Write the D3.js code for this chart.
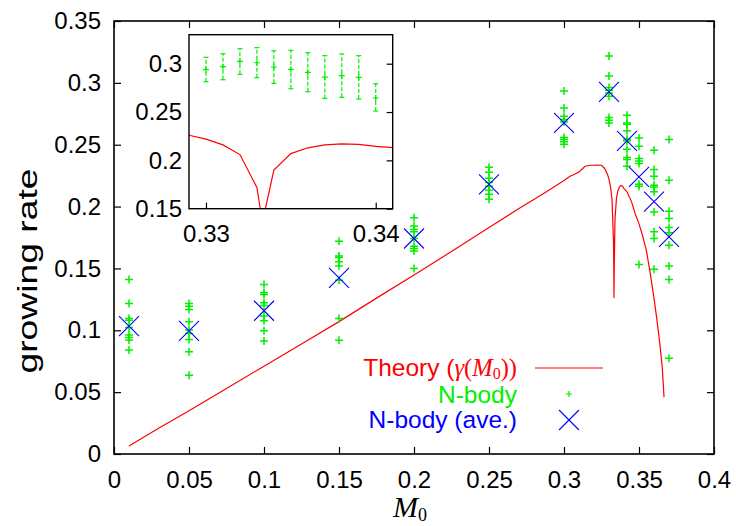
<!DOCTYPE html>
<html><head><meta charset="utf-8">
<script src="https://cdn.jsdelivr.net/npm/d3@7"></script>
<style>body{margin:0;background:#fff}</style>
</head><body>
<svg id="c" width="736" height="526"></svg>
<script>
// Theory curve gamma(M0)
const theoryM = [0.01, 0.03, 0.05, 0.075, 0.1, 0.125, 0.15, 0.175, 0.2, 0.225, 0.25, 0.27, 0.287, 0.3, 0.304, 0.306, 0.31, 0.314, 0.318, 0.322, 0.325, 0.327, 0.329, 0.33, 0.331, 0.332, 0.333, 0.3332, 0.3333, 0.3335, 0.334, 0.335, 0.336, 0.337, 0.338, 0.339, 0.34, 0.342, 0.345, 0.3475, 0.35, 0.3525, 0.355, 0.3575, 0.36, 0.362, 0.364, 0.3655, 0.3667];
const theoryG = [0.0065, 0.021, 0.035, 0.053, 0.071, 0.089, 0.107, 0.126, 0.1446, 0.1637, 0.183, 0.1985, 0.211, 0.221, 0.2245, 0.2255, 0.228, 0.2326, 0.2334, 0.2336, 0.2334, 0.231, 0.226, 0.222, 0.216, 0.206, 0.172, 0.15, 0.126, 0.15, 0.19, 0.207, 0.213, 0.216, 0.217, 0.2165, 0.2145, 0.212, 0.204, 0.194, 0.186, 0.176, 0.164, 0.146, 0.126, 0.108, 0.088, 0.07, 0.046];

// N-body runs
const nbM = [0.01, 0.05, 0.1, 0.15, 0.2, 0.25, 0.3, 0.33, 0.342, 0.35, 0.36, 0.37];
const nbRuns = [
  [0.1411, 0.1217, 0.1096, 0.1082, 0.1023, 0.0961, 0.0942, 0.0921, 0.084],
  [0.1217, 0.1195, 0.1168, 0.1069, 0.1002, 0.0975, 0.0926, 0.0826, 0.0636],
  [0.1371, 0.1303, 0.129, 0.1222, 0.1201, 0.1115, 0.1077, 0.0996, 0.0913],
  [0.172, 0.160, 0.1589, 0.1553, 0.1519, 0.1405, 0.1096, 0.092],
  [0.1909, 0.1842, 0.1815, 0.1796, 0.1742, 0.168, 0.1661, 0.164, 0.15],
  [0.2318, 0.2278, 0.2229, 0.2197, 0.2165, 0.2132, 0.21, 0.206],
  [0.2935, 0.2797, 0.273, 0.2703, 0.2684, 0.2558, 0.2542, 0.2523, 0.2504],
  [0.3217, 0.3056, 0.2962, 0.294, 0.2919, 0.2892, 0.272, 0.2698, 0.2676],
  [0.2738, 0.2676, 0.2666, 0.2612, 0.2544, 0.2531, 0.2464, 0.2396, 0.238, 0.2326],
  [0.2555, 0.2488, 0.2388, 0.2369, 0.2348, 0.2181, 0.2165, 0.1532],
  [0.2456, 0.23, 0.2246, 0.2173, 0.2159, 0.2119, 0.1957, 0.1796, 0.1742, 0.1494],
  [0.2542, 0.2213, 0.1963, 0.1904, 0.1831, 0.1788, 0.1688, 0.1519, 0.1411, 0.0773]
];
// N-body averages
const aveG = [0.1034, 0.0996, 0.1158, 0.1424, 0.1742, 0.218, 0.2677, 0.2927, 0.2531, 0.224, 0.204, 0.1755];

// Inset: mean with error bars
const insetM = [0.330, 0.331, 0.332, 0.333, 0.334, 0.335, 0.336, 0.337, 0.338, 0.339, 0.340];
const insetMean = [0.2938, 0.2969, 0.3024, 0.301, 0.2966, 0.2941, 0.291, 0.2862, 0.2876, 0.2859, 0.2645];
const insetLo = [0.2814, 0.2834, 0.289, 0.2855, 0.2797, 0.2741, 0.271, 0.2641, 0.2652, 0.2634, 0.251];
const insetHi = [0.3066, 0.3103, 0.3155, 0.3166, 0.3134, 0.3138, 0.3114, 0.3083, 0.31, 0.3083, 0.2793];

const xTicks = [0, 0.05, 0.1, 0.15, 0.2, 0.25, 0.3, 0.35, 0.4];
const xTickLabels = ["0", "0.05", "0.1", "0.15", "0.2", "0.25", "0.3", "0.35", "0.4"];
const yTicks = [0, 0.05, 0.1, 0.15, 0.2, 0.25, 0.3, 0.35];
const yTickLabels = ["0", "0.05", "0.1", "0.15", "0.2", "0.25", "0.3", "0.35"];
const insetXTicks = [0.33, 0.34];
const insetXTickLabels = ["0.33", "0.34"];
const insetYTicks = [0.15, 0.2, 0.25, 0.3];
const insetYTickLabels = ["0.15", "0.2", "0.25", "0.3"];

const RED = "#ff0000", GREEN = "#00f000", BLUE = "#0000ff";
const SANS = "'Liberation Sans', Arial, Helvetica, sans-serif";
const SERIF = "'Liberation Serif', 'Times New Roman', serif";

const svg = d3.select('#c');
svg.append('rect').attr('width', 736).attr('height', 526).attr('fill', '#fff');

const x = d3.scaleLinear().domain([0, 0.4]).range([114, 714]);
const y = d3.scaleLinear().domain([0, 0.35]).range([454, 21]);

function styleAxis(g, size) {
  g.select('.domain').remove();
  g.selectAll('line').attr('stroke', '#000').attr('stroke-width', 1.2);
  g.selectAll('text').attr('font-family', SANS).attr('font-size', size).attr('fill', '#000');
}

svg.append('g').attr('transform', 'translate(0,454)')
  .call(d3.axisBottom(x).tickValues(xTicks).tickSize(-7).tickPadding(17).tickFormat((d, i) => xTickLabels[i]))
  .call(g => styleAxis(g, 24));
svg.append('g').attr('transform', 'translate(0,21)')
  .call(d3.axisTop(x).tickValues(xTicks).tickSize(-7).tickFormat(''))
  .call(g => styleAxis(g, 24));
svg.append('g').attr('transform', 'translate(114,0)')
  .call(d3.axisLeft(y).tickValues(yTicks).tickSize(-7).tickPadding(13).tickFormat((d, i) => yTickLabels[i]))
  .call(g => styleAxis(g, 24));
svg.append('g').attr('transform', 'translate(714,0)')
  .call(d3.axisRight(y).tickValues(yTicks).tickSize(-7).tickFormat(''))
  .call(g => styleAxis(g, 24));

// theory curve
const theory = theoryM.map((m, i) => [m, theoryG[i]]);
const line = d3.line().x(d => x(d[0])).y(d => y(d[1]));
svg.append('path').datum(theory).attr('d', line)
  .attr('fill', 'none').attr('stroke', RED).attr('stroke-width', 1.2);

// N-body points
const pts = [];
nbM.forEach((m, i) => nbRuns[i].forEach(v => pts.push([m, v])));
const plus = (sel, s) => sel.append('path')
  .attr('d', `M${-s},0H${s}M0,${-s}V${s}`);
const pg = svg.append('g');
pts.forEach(p => {
  plus(pg.append('g').attr('transform', `translate(${x(p[0])},${y(p[1])})`), 4)
    .attr('stroke', GREEN).attr('stroke-width', 1.5).attr('fill', 'none');
});

// averages
const cross = (sel, s) => sel.append('path')
  .attr('d', `M${-s},${-s}L${s},${s}M${-s},${s}L${s},${-s}`);
const ag = svg.append('g');
nbM.forEach((m, i) => {
  cross(ag.append('g').attr('transform', `translate(${x(m)},${y(aveG[i])})`), 10)
    .attr('stroke', BLUE).attr('stroke-width', 1.1).attr('fill', 'none');
});

// frame
svg.append('rect').attr('x', 114).attr('y', 21).attr('width', 600).attr('height', 433)
  .attr('fill', 'none').attr('stroke', '#000').attr('stroke-width', 1.6);

// legend
const lg = svg.append('g').attr('font-family', SANS).attr('font-size', 24.5);
const t1 = lg.append('text').attr('x', 517).attr('y', 376).attr('text-anchor', 'end').attr('fill', RED);
t1.append('tspan').text('Theory (');
t1.append('tspan').attr('font-family', SERIF).attr('font-style', 'italic').text('γ');
t1.append('tspan').attr('font-family', SERIF).text('(');
t1.append('tspan').attr('font-family', SERIF).attr('font-style', 'italic').text('M');
t1.append('tspan').attr('font-family', SERIF).attr('font-size', 16).attr('dy', 3).text('0');
t1.append('tspan').attr('font-family', SERIF).attr('dy', -3).text('))');
lg.append('line').attr('x1', 535).attr('x2', 603).attr('y1', 368).attr('y2', 368)
  .attr('stroke', RED).attr('stroke-width', 1.2);
lg.append('text').attr('x', 517).attr('y', 403).attr('text-anchor', 'end').attr('fill', GREEN).text('N-body');
plus(lg.append('g').attr('transform', 'translate(569,394)'), 3)
  .attr('stroke', GREEN).attr('stroke-width', 1.2);
lg.append('text').attr('x', 517).attr('y', 428).attr('text-anchor', 'end').attr('fill', BLUE).text('N-body (ave.)');
cross(lg.append('g').attr('transform', 'translate(569,420)'), 10)
  .attr('stroke', BLUE).attr('stroke-width', 1.1);

// axis titles
svg.append('text').attr('transform', 'translate(37,271) rotate(-90)')
  .attr('text-anchor', 'middle').attr('font-family', SANS).attr('font-size', 27)
  .attr('textLength', 205).attr('lengthAdjust', 'spacingAndGlyphs')
  .text('growing rate');
const xl = svg.append('text').attr('x', 410).attr('y', 517).attr('text-anchor', 'middle')
  .attr('font-family', SERIF).attr('font-size', 30);
xl.append('tspan').attr('font-style', 'italic').text('M');
xl.append('tspan').attr('font-size', 18).attr('dy', 4).text('0');

// inset
const ix = d3.scaleLinear().domain([0.329, 0.341]).range([189, 392.7]);
const iy = d3.scaleLinear().domain([0.15, 0.33]).range([208.7, 34.7]);
const ins = svg.append('g');
ins.append('rect').attr('x', 189).attr('y', 34.7).attr('width', 203.7).attr('height', 174)
  .attr('fill', '#fff');
svg.append('clipPath').attr('id', 'iclip').append('rect')
  .attr('x', 189).attr('y', 34.7).attr('width', 203.7).attr('height', 174);

ins.append('g').attr('transform', 'translate(0,208.7)')
  .call(d3.axisBottom(ix).tickValues(insetXTicks).tickSize(-6).tickPadding(16).tickFormat((d, i) => insetXTickLabels[i]))
  .call(g => styleAxis(g, 24));
ins.append('g').attr('transform', 'translate(189,0)')
  .call(d3.axisLeft(iy).tickValues(insetYTicks).tickSize(0).tickPadding(7).tickFormat((d, i) => insetYTickLabels[i]))
  .call(g => styleAxis(g, 24));
ins.append('g').attr('transform', 'translate(392.7,0)')
  .call(d3.axisRight(iy).tickValues(insetYTicks).tickSize(-6).tickFormat(''))
  .call(g => styleAxis(g, 24));

const iline = d3.line().x(d => ix(d[0])).y(d => iy(d[1]));
ins.append('path').datum(theory).attr('d', iline).attr('clip-path', 'url(#iclip)')
  .attr('fill', 'none').attr('stroke', RED).attr('stroke-width', 1.2);

const eb = ins.append('g').attr('stroke', GREEN).attr('stroke-width', 1.2).attr('fill', 'none');
insetM.forEach((m, i) => {
  const cx = ix(m);
  eb.append('line').attr('x1', cx).attr('x2', cx).attr('y1', iy(insetLo[i])).attr('y2', iy(insetHi[i]))
    .attr('stroke-dasharray', '4,2');
  eb.append('line').attr('x1', cx - 2.5).attr('x2', cx + 2.5).attr('y1', iy(insetLo[i])).attr('y2', iy(insetLo[i]));
  eb.append('line').attr('x1', cx - 2.5).attr('x2', cx + 2.5).attr('y1', iy(insetHi[i])).attr('y2', iy(insetHi[i]));
  plus(eb.append('g').attr('transform', `translate(${cx},${iy(insetMean[i])})`), 3);
});
ins.append('rect').attr('x', 189).attr('y', 34.7).attr('width', 203.7).attr('height', 174)
  .attr('fill', 'none').attr('stroke', '#000').attr('stroke-width', 1.4);
</script>
</body></html>
